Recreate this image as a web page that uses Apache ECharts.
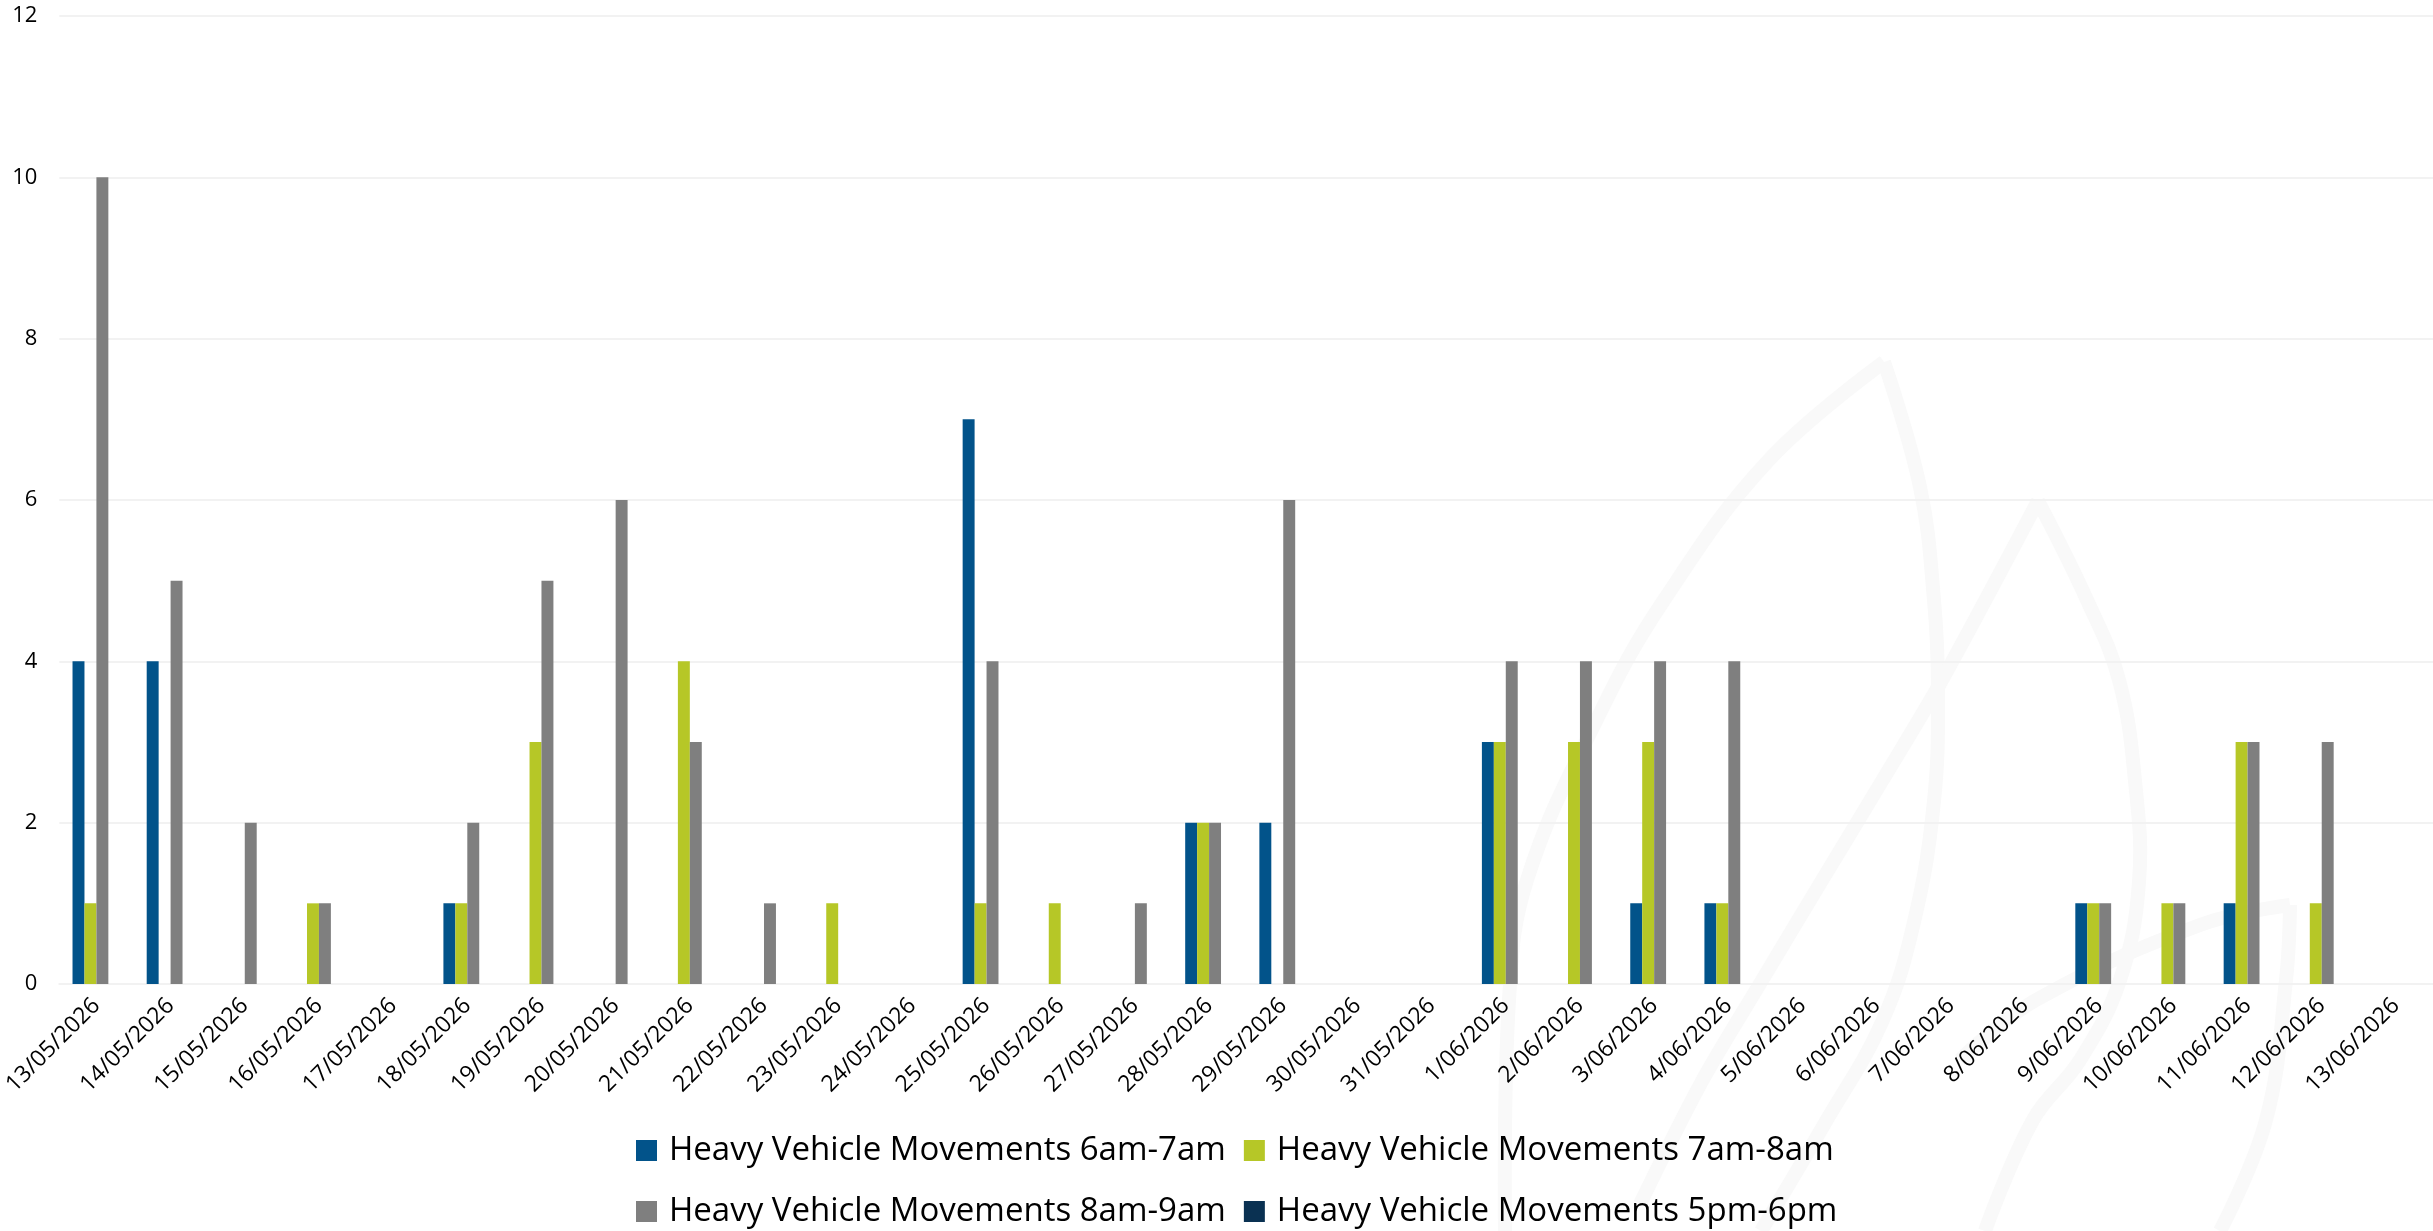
<!DOCTYPE html>
<html>
<head>
<meta charset="utf-8">
<script src="https://cdn.jsdelivr.net/npm/echarts@6/dist/echarts.min.js"></script>
<style>
  html, body { margin: 0; padding: 0; background: #ffffff; }
  #chart { width: 2433px; height: 1231px; }
</style>
</head>
<body>
<div id="chart"></div>
<script>
const categories = [
  "13/05/2026","14/05/2026","15/05/2026","16/05/2026","17/05/2026","18/05/2026",
  "19/05/2026","20/05/2026","21/05/2026","22/05/2026","23/05/2026","24/05/2026",
  "25/05/2026","26/05/2026","27/05/2026","28/05/2026","29/05/2026","30/05/2026",
  "31/05/2026","1/06/2026","2/06/2026","3/06/2026","4/06/2026","5/06/2026",
  "6/06/2026","7/06/2026","8/06/2026","9/06/2026","10/06/2026","11/06/2026",
  "12/06/2026","13/06/2026"
];
const seriesNames = [
  "Heavy Vehicle Movements 6am-7am",
  "Heavy Vehicle Movements 7am-8am",
  "Heavy Vehicle Movements 8am-9am",
  "Heavy Vehicle Movements 5pm-6pm"
];
const hv6to7 = [4,4,0,0,0,1,0,0,0,0,0,0,7,0,0,2,2,0,0,3,0,1,1,0,0,0,0,1,0,1,0,0];
const hv7to8 = [1,0,0,1,0,1,3,0,4,0,1,0,1,1,0,2,0,0,0,3,3,3,1,0,0,0,0,1,1,3,1,0];
const hv8to9 = [10,5,2,1,0,2,5,6,3,1,0,0,4,0,1,2,6,0,0,4,4,4,4,0,0,0,0,1,1,3,3,0];
const hv5to6 = [0,0,0,0,0,0,0,0,0,0,0,0,0,0,0,0,0,0,0,0,0,0,0,0,0,0,0,0,0,0,0,0];
const yTicks = { min: 0, max: 12, interval: 2 };

const colors = ["#02538A", "#B6C727", "#7F7F7F", "#0A3152"];
const fontFamily = "'Open Sans', 'Noto Sans', sans-serif";

const chart = echarts.init(document.getElementById('chart'), null, { renderer: 'canvas' });

const wm = { stroke: '#F9F9F9', lineWidth: 14, fill: null };
const option = {
  backgroundColor: '#ffffff',
  animation: false,
  color: colors,
  textStyle: { fontFamily: fontFamily },
  graphic: [
    { type: 'polyline', z: -10, silent: true,
      shape: { smooth: 0.4, points: [[1505,1231],[1509,1000],[1527,880],[1600,713],[1664,600],[1768,461],[1884,362]] }, style: wm },
    { type: 'polyline', z: -10, silent: true,
      shape: { smooth: 0.4, points: [[1884,362],[1920,487],[1934,600],[1938,690],[1934,801],[1914,922],[1882,1022],[1825,1123],[1761,1231]] }, style: wm },
    { type: 'polyline', z: -10, silent: true,
      shape: { smooth: 0.3, points: [[1640,1204],[1701,1083],[1761,982],[1821,882],[1882,781],[1942,680],[2038,501]] }, style: wm },
    { type: 'polyline', z: -10, silent: true,
      shape: { smooth: 0.4, points: [[2038,501],[2087,600],[2119,680],[2135,781],[2139,882],[2120,980],[2080,1060],[2033,1120],[1985,1231]] }, style: wm },
    { type: 'polyline', z: -10, silent: true,
      shape: { smooth: 0.4, points: [[1960,1060],[2036,1000],[2200,925],[2290,905]] }, style: wm },
    { type: 'polyline', z: -10, silent: true,
      shape: { smooth: 0.4, points: [[2290,905],[2286,980],[2266,1120],[2220,1231]] }, style: wm }
  ],
  grid: { left: 59, right: -10, top: 16, bottom: 247, containLabel: false },
  legend: {
    data: seriesNames,
    left: 636,
    top: 1129,
    width: 1260,
    padding: 0,
    itemWidth: 21,
    itemHeight: 21,
    itemGap: 18,
    icon: 'rect',
    textStyle: {
      fontFamily: fontFamily,
      fontSize: 33,
      color: '#000000',
      lineHeight: 43,
      padding: [0, 0, 0, 7]
    }
  },
  xAxis: {
    type: 'category',
    data: categories,
    axisLine: { show: true, lineStyle: { color: '#F2F2F2', width: 2 } },
    axisTick: { show: false },
    axisLabel: {
      rotate: 45,
      interval: 0,
      margin: 18,
      fontFamily: fontFamily,
      fontSize: 23,
      color: '#000000'
    },
    splitLine: { show: false }
  },
  yAxis: {
    type: 'value',
    min: yTicks.min,
    max: yTicks.max,
    interval: yTicks.interval,
    axisLine: { show: false },
    axisTick: { show: false },
    axisLabel: {
      margin: 22,
      fontFamily: fontFamily,
      fontSize: 22,
      color: '#000000'
    },
    splitLine: { show: true, lineStyle: { color: '#F2F2F2', width: 2 } }
  },
  series: [hv6to7, hv7to8, hv8to9, hv5to6].map((d, i) => ({
    name: seriesNames[i],
    type: 'bar',
    data: d,
    barGap: '0%',
    barCategoryGap: '35.6%',
    itemStyle: { color: colors[i] }
  }))
};
chart.setOption(option);
</script>
</body>
</html>
